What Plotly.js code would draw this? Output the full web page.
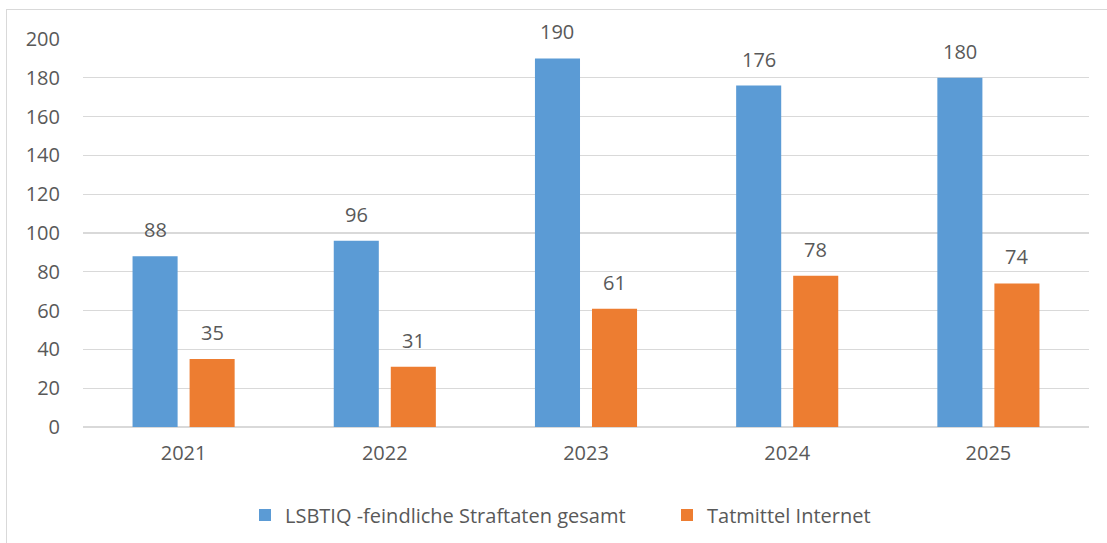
<!DOCTYPE html>
<html>
<head>
<meta charset="utf-8">
<script src="https://cdn.plot.ly/plotly-3.0.1.min.js"></script>
<style>
  html, body { margin: 0; padding: 0; background: #ffffff; overflow: hidden; }
  #wrap { position: relative; width: 1107px; height: 543px; }
  #chart { position: absolute; left: 0; top: 0; width: 1107px; height: 543px; }
  #frame { position: absolute; left: 6px; top: 9px; width: 1120px; height: 560px;
           border: 1px solid #d9d9d9; pointer-events: none; box-sizing: border-box; }
</style>
</head>
<body>
<div id="wrap">
  <div id="chart"></div>
  <div id="frame"></div>
</div>
<script>
const years = ['2021', '2022', '2023', '2024', '2025'];
const seriesNames = ['LSBTIQ -feindliche Straftaten gesamt', 'Tatmittel Internet'];
const totalValues = [88, 96, 190, 176, 180];
const internetValues = [35, 31, 61, 78, 74];
const yTicks = [0, 20, 40, 60, 80, 100, 120, 140, 160, 180, 200];

const textColor = '#595959';
const fontFamily = '"Open Sans", "Liberation Sans", sans-serif';
const fontSize = 20;

const traces = [
  {
    type: 'bar', name: seriesNames[0], x: years, y: totalValues,
    marker: { color: '#5B9BD5' }, hoverinfo: 'skip'
  },
  {
    type: 'bar', name: seriesNames[1], x: years, y: internetValues,
    marker: { color: '#ED7D31' }, hoverinfo: 'skip'
  }
];

// Data labels above each bar (offset horizontally to the grouped bar centre)
const plotWidth = 1107 - 83 - 18;
const catWidth = plotWidth / years.length;
const bargap = 0.433, bargroupgap = 0.21;
const groupWidth = catWidth * (1 - bargap);
const slot = groupWidth / 2;
const annotations = [];
[totalValues, internetValues].forEach((vals, s) => {
  const shift = (s === 0 ? -1 : 1) * slot / 2;
  vals.forEach((v, i) => {
    annotations.push({
      x: i, y: v, xref: 'x', yref: 'y',
      text: String(v), showarrow: false,
      xanchor: 'center', yanchor: 'bottom',
      xshift: shift, yshift: 11,
      font: { family: fontFamily, size: fontSize, color: textColor }
    });
  });
});

const layout = {
  width: 1107, height: 543,
  margin: { l: 83, r: 18, t: 39, b: 116 },
  paper_bgcolor: '#ffffff', plot_bgcolor: '#ffffff',
  barmode: 'group', bargap: bargap, bargroupgap: bargroupgap,
  font: { family: fontFamily, size: fontSize, color: textColor },
  xaxis: {
    type: 'category', range: [-0.5, years.length - 0.5], autorange: false,
    showgrid: false, zeroline: false,
    showline: false, ticks: '', ticklabelstandoff: 12,
    tickfont: { family: fontFamily, size: fontSize, color: textColor }
  },
  yaxis: {
    range: [0, 200], autorange: false, tickvals: yTicks, showgrid: true,
    gridcolor: '#d9d9d9', gridwidth: 1.3,
    zeroline: true, zerolinecolor: '#d9d9d9', zerolinewidth: 1.5,
    showline: false, ticks: '', ticklabelstandoff: 22,
    tickfont: { family: fontFamily, size: fontSize, color: textColor }
  },
  showlegend: true,
  legend: {
    orientation: 'h', xref: 'container', yref: 'container',
    x: 245 / 1107, xanchor: 'left', y: 1 - 515 / 543, yanchor: 'middle',
    font: { family: fontFamily, size: fontSize, color: textColor },
    itemwidth: 30, tracegroupgap: 0, entrywidth: 377, entrywidthmode: 'pixels'
  },
  annotations: annotations
};

Plotly.newPlot('chart', traces, layout, { displayModeBar: false, staticPlot: true });
</script>
</body>
</html>
